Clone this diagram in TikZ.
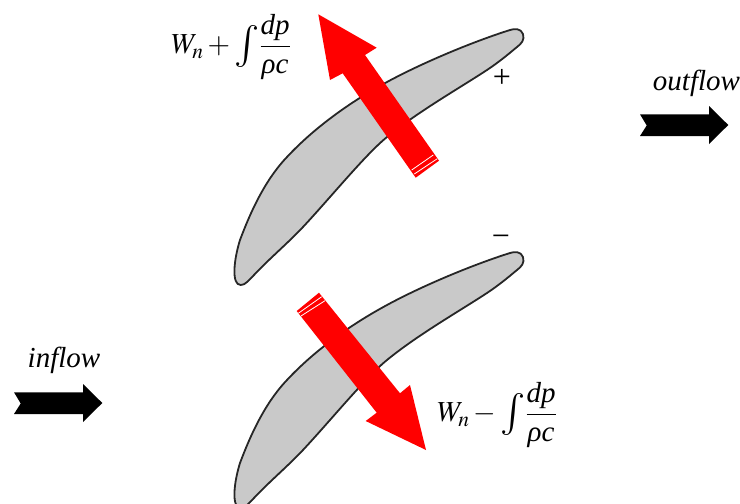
\documentclass[tikz,border=0pt]{standalone}
\usepackage{mathptmx}
\usepackage[no-math]{fontspec}
\setmainfont{Liberation Serif}
\tikzset{
    bladeshape/.style={draw=black!85,fill=black!21,line width=1.8pt,line join=round},
    normalarrow/.style={fill=red,draw=none},
    tailline/.style={draw=white,line width=0.8pt},
    flowarrow/.style={fill=black,draw=none},
    flowlabel/.style={font=\fontsize{29}{32}\selectfont\itshape,inner sep=0pt},
    signlabel/.style={font=\fontsize{32}{34}\selectfont,inner sep=0pt},
    mathlabel/.style={font=\fontsize{29}{32}\selectfont,inner sep=0pt}
}
\newcommand{\dpfrac}{\displaystyle\frac{\textit{dp}}{\textit{ρc}}}
\newcommand{\bladeint}{\vcenter{\hbox{\fontsize{42}{44}\selectfont$\textstyle\int$}}}
\begin{document}
\begin{tikzpicture}[x=1pt,y=-1pt]
    \useasboundingbox (0,0) rectangle (740,504);
    \foreach \bladey in {0,223} {
        \draw[bladeshape,yshift=-\bladey pt] (510,30)
            .. controls (472,42) and (422,63) .. (387,82)
            .. controls (350,102) and (314,128) .. (287,157)
            .. controls (265,180) and (250.5,212) .. (240,240)
            .. controls (234,259) and (231,285) .. (240.7,285)
            .. controls (245,285.5) and (250,279) .. (254,275)
            .. controls (270,258) and (288,243) .. (303,227)
            .. controls (331,197) and (365.4,154.6) .. (387,137)
            .. controls (417.8,111.8) and (458,89) .. (487,70)
            .. controls (502,60) and (512,51) .. (517,47)
            .. controls (521,44) and (525,40) .. (523,34)
            .. controls (521,28) and (514,28.7) .. (510,30) -- cycle;
    }
    \fill[normalarrow] (318.3,14.3) -- (376.7,47.7) -- (365,55) -- (439,160.7)
        -- (415.7,177.7) -- (342.7,73.3) -- (330,80) -- cycle;
    \draw[tailline] (411.7,170) -- (433.3,155);
    \draw[tailline] (414.3,174) -- (437.3,158.7);
    \fill[normalarrow] (426,450) -- (410,385) -- (400,393.3) -- (319,292.7)
        -- (296.7,311) -- (376.7,412.7) -- (365.7,421) -- cycle;
    \draw[tailline] (298.3,313.3) -- (321.7,296.7);
    \draw[tailline] (301,316) -- (325,300.7);
    \fill[flowarrow] (640,114.3) -- (709,114.3) -- (709,106) -- (728.3,125) -- (709,144)
        -- (709,136) -- (640,136) -- (646.7,125.5) -- cycle;
    \fill[flowarrow] (14,392.3) -- (83,392.3) -- (83,384) -- (102.3,403) -- (83,422)
        -- (83,414) -- (14,414) -- (20.7,403.5) -- cycle;
    \node[flowlabel] (outflow) at (696.5,83) {outflow};
    \node[flowlabel] (inflow) at (64,360) {inflow};
    \node[signlabel] (plus) at (502,78) {+};
    \node[signlabel] (minus) at (501,241) {−};
    \node[mathlabel] (uppersum) at (231,47) {$W_n+\bladeint\dpfrac$};
    \node[mathlabel] (lowersum) at (497,415) {$W_n-\bladeint\dpfrac$};
\end{tikzpicture}
\end{document}
